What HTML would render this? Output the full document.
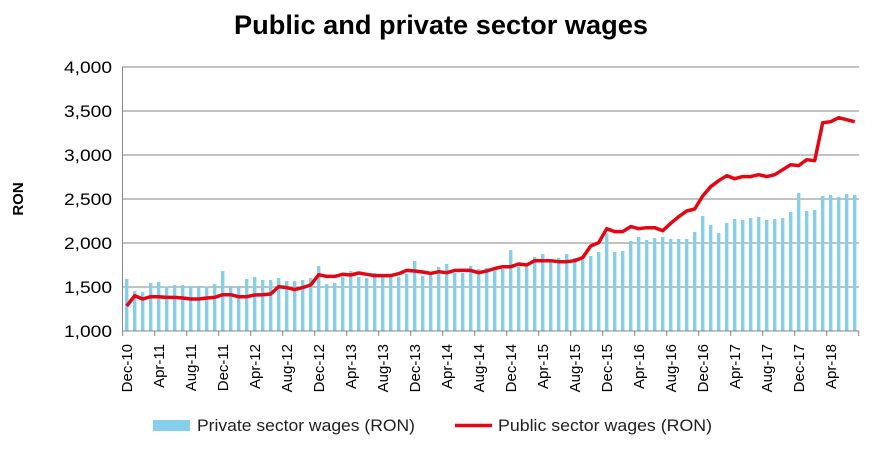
<!DOCTYPE html>
<html><head><meta charset="utf-8"><style>
body{margin:0;background:#fff;width:884px;height:452px;overflow:hidden}
svg{display:block;font-family:"Liberation Sans",sans-serif}
</style></head><body>
<svg id="c" width="884" height="452" xmlns="http://www.w3.org/2000/svg">
<text x="441" y="34" text-anchor="middle" font-size="27" font-weight="bold" fill="#000" textLength="414" lengthAdjust="spacingAndGlyphs">Public and private sector wages</text>
<text transform="translate(23,199) rotate(-90)" text-anchor="middle" font-size="15" font-weight="bold">RON</text>
<g id="g"></g>
<rect x="153" y="420" width="37" height="11" fill="#87CEEB" stroke="none"/>
<text x="197" y="431" font-size="16.5" fill="#222" textLength="218" lengthAdjust="spacingAndGlyphs">Private sector wages (RON)</text>
<line x1="455" y1="425.5" x2="492" y2="425.5" stroke="#E30613" stroke-width="3.5"/>
<text x="498" y="431" font-size="16.5" fill="#222" textLength="214" lengthAdjust="spacingAndGlyphs">Public sector wages (RON)</text>
</svg>
<script>
var priv=[1591,1455,1443,1545,1557,1504,1523,1523,1511,1511,1504,1534,1682,1511,1511,1591,1614,1580,1580,1602,1568,1568,1580,1602,1739,1534,1545,1614,1682,1614,1602,1659,1636,1648,1614,1648,1795,1625,1636,1727,1761,1659,1659,1739,1705,1716,1685,1705,1920,1731,1731,1841,1875,1788,1829,1875,1829,1807,1852,1898,2110,1898,1909,2023,2068,2034,2057,2068,2045,2045,2045,2125,2307,2205,2114,2227,2273,2261,2284,2295,2261,2273,2284,2352,2568,2364,2375,2534,2545,2523,2557,2545];
var pub=[1284,1401,1364,1390,1390,1382,1382,1375,1364,1364,1375,1382,1413,1413,1390,1390,1409,1413,1420,1504,1493,1470,1493,1523,1640,1621,1621,1644,1636,1659,1644,1629,1629,1629,1651,1689,1682,1670,1655,1674,1663,1689,1689,1689,1663,1682,1710,1731,1731,1761,1750,1799,1799,1799,1788,1788,1799,1833,1966,2004,2163,2129,2129,2186,2163,2174,2174,2140,2224,2299,2364,2386,2534,2640,2708,2765,2731,2754,2754,2776,2754,2776,2833,2890,2879,2947,2935,3367,3378,3424,3401,3378];
function Y(v){return 331-(v-1000)*44/500;}
var s='';
var yl=['1,000','1,500','2,000','2,500','3,000','3,500','4,000'];
for(var k=0;k<7;k++){var y=331-44*k;
 if(k>0)s+='<line x1="122" y1="'+y+'" x2="859" y2="'+y+'" stroke="#868686" stroke-width="1"/>';
 s+='<text x="112" y="'+(y+6)+'" text-anchor="end" font-size="16.5" fill="#000" textLength="48" lengthAdjust="spacingAndGlyphs">'+yl[k]+'</text>';}
for(var i=0;i<92;i++){var cx=126.7+8*i,y=Y(priv[i]);
 s+='<rect x="'+(cx-1.7).toFixed(1)+'" y="'+y.toFixed(1)+'" width="3.4" height="'+(331-y).toFixed(1)+'" fill="#87CEEB"/>';}
s+='<line x1="122.5" y1="67" x2="122.5" y2="331" stroke="#868686"/>';
s+='<line x1="122" y1="331" x2="859" y2="331" stroke="#868686"/>';
for(var t=0;t<=23;t++){var x=122.7+32*t;s+='<line x1="'+x+'" y1="331" x2="'+x+'" y2="336" stroke="#868686"/>';}
var mo=['Dec','Apr','Aug'];
for(var t=0;t<23;t++){var cx=126.7+32*t;var yr=10+Math.floor((t+2)/3);var lab=mo[t%3]+'-'+yr;
 s+='<text transform="translate('+(cx+5.5)+',344) rotate(-90)" text-anchor="end" font-size="15" fill="#000">'+lab+'</text>';}
var p='';for(var i=0;i<92;i++){p+=(i?'L':'M')+(126.7+8*i).toFixed(1)+','+Y(pub[i]).toFixed(1);}
s+='<path d="'+p+'" fill="none" stroke="#E30613" stroke-width="3.5" stroke-linejoin="round"/>';
document.getElementById('g').innerHTML=s;
</script>
</body></html>
